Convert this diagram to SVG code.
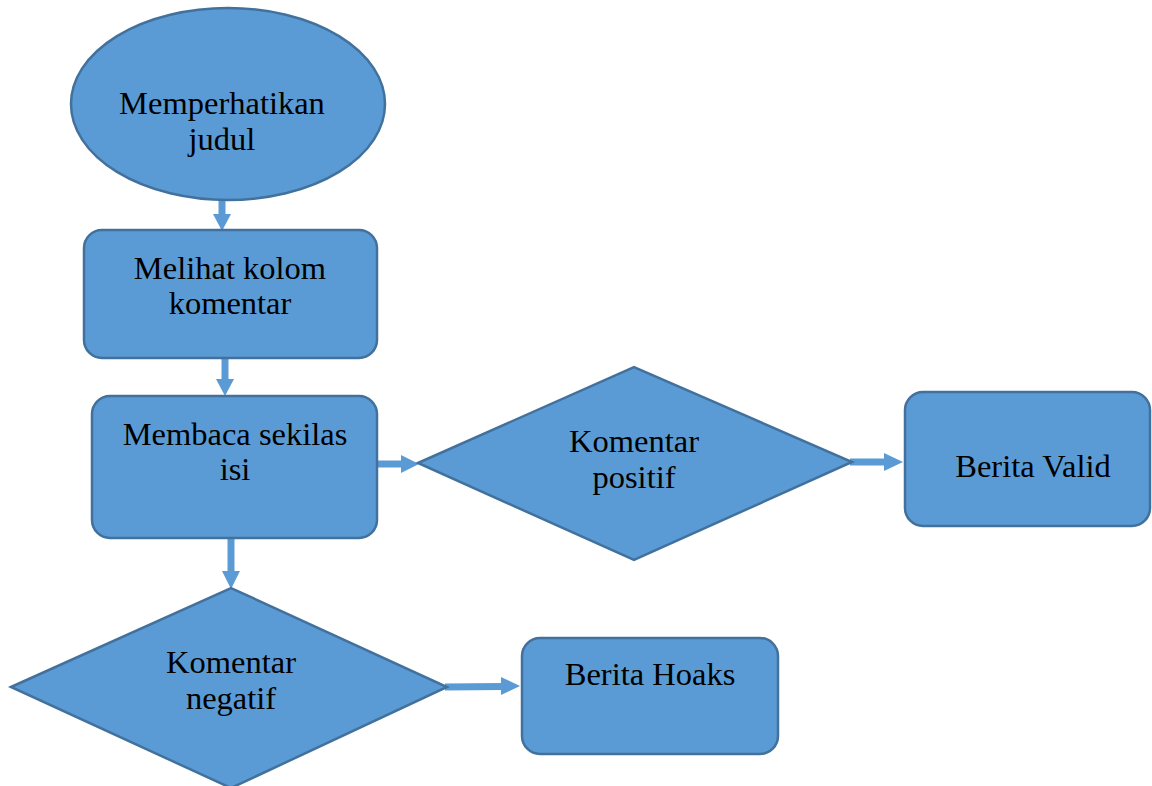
<svg xmlns="http://www.w3.org/2000/svg" width="1152" height="786" viewBox="0 0 1152 786">
<style>
.n{fill:#5B9BD5;stroke:#41719C;stroke-width:2.5}
.t{font-family:"Liberation Serif","Times New Roman",serif;font-size:32.5px;fill:#000;text-anchor:middle}
.c{stroke:#5B9BD5;stroke-width:7;fill:none}
.h{fill:#5B9BD5}
</style>
<rect width="1152" height="786" fill="#fff"/>
<g id="connectors">
<line class="c" x1="222" y1="200" x2="222" y2="215"/><polygon class="h" points="213,214 231,214 222,231"/>
<line class="c" x1="225" y1="358" x2="225" y2="380"/><polygon class="h" points="216,379 234,379 225,396"/>
<line class="c" x1="377" y1="464" x2="402" y2="464"/><polygon class="h" points="401,455 401,473 419,464"/>
<line class="c" x1="850" y1="462" x2="886" y2="462"/><polygon class="h" points="884,453 884,471 903,462"/>
<line class="c" x1="231" y1="538" x2="231" y2="573"/><polygon class="h" points="222,571 240,571 231,589"/>
<line class="c" x1="445" y1="687" x2="503" y2="686.5"/><polygon class="h" points="501,677 501,695 520,686"/>
</g>
<g id="n1"><ellipse class="n" cx="228" cy="104" rx="157" ry="96"/><text class="t" x="222" y="114">Memperhatikan</text><text class="t" x="222" y="150">judul</text></g>
<g id="n2"><rect class="n" x="84" y="230" width="293" height="128" rx="18"/><text class="t" x="230" y="279">Melihat kolom</text><text class="t" x="230" y="314">komentar</text></g>
<g id="n3"><rect class="n" x="92" y="396" width="285" height="142" rx="18"/><text class="t" x="235" y="445">Membaca sekilas</text><text class="t" x="235" y="480">isi</text></g>
<g id="n4"><polygon class="n" points="418,463 634,367 852,462 634,560"/><text class="t" x="634" y="452">Komentar</text><text class="t" x="634" y="488">positif</text></g>
<g id="n5"><rect class="n" x="905" y="392" width="245" height="134" rx="18"/><text class="t" x="1033" y="477">Berita Valid</text></g>
<g id="n6"><polygon class="n" points="11,687 231,588 447,687 231,788"/><text class="t" x="231" y="673">Komentar</text><text class="t" x="231" y="709">negatif</text></g>
<g id="n7"><rect class="n" x="522" y="638" width="256" height="116" rx="18"/><text class="t" x="650" y="685">Berita Hoaks</text></g>
</svg>
